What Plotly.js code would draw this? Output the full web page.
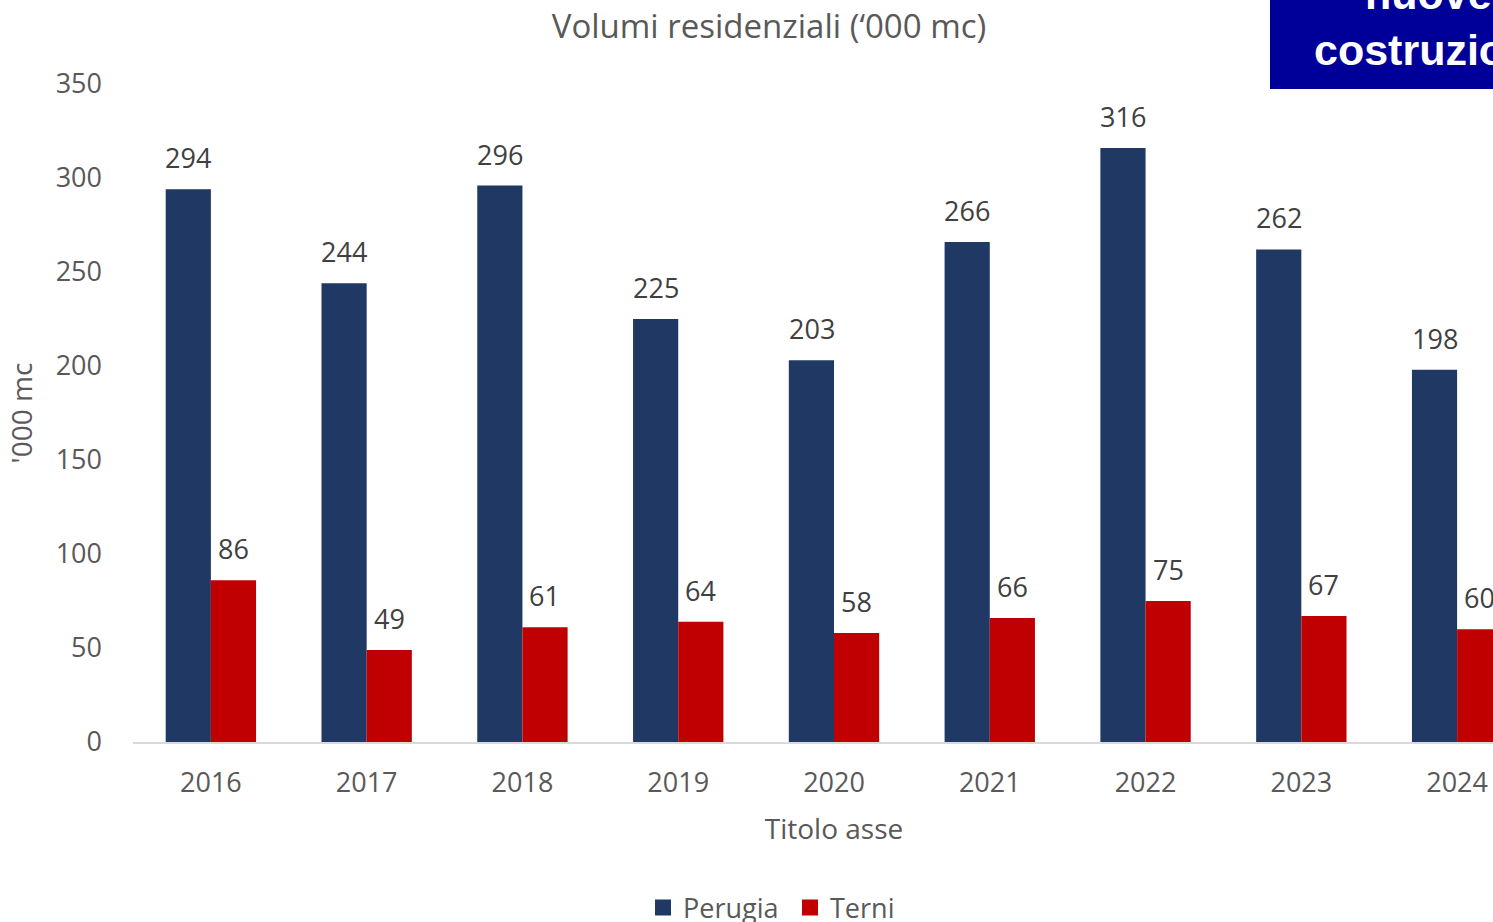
<!DOCTYPE html>
<html>
<head>
<meta charset="utf-8">
<script src="https://cdn.plot.ly/plotly-3.0.1.min.js"></script>
<style>
html,body{margin:0;padding:0;overflow:hidden;background:#fff;}
#chart{width:1540px;height:922px;}
</style>
</head>
<body>
<div id="chart"></div>
<script>
var years = ['2016','2017','2018','2019','2020','2021','2022','2023','2024'];
var perugia = [294,244,296,225,203,266,316,262,198];
var terni = [86,49,61,64,58,66,75,67,60];
var seriesNames = ['Perugia','Terni'];
var seriesColors = ['#1F3864','#C00000'];

var FONT = '"Open Sans", "DejaVu Sans", sans-serif';
var BOXFONT = '"Liberation Sans", Arial, sans-serif';

var traces = [
  {type:'bar', x:years, y:perugia, name:seriesNames[0], marker:{color:seriesColors[0]}, showlegend:false, hoverinfo:'x+y'},
  {type:'bar', x:years, y:terni, name:seriesNames[1], marker:{color:seriesColors[1]}, showlegend:false, hoverinfo:'x+y'},
  // legend-only entries with larger square swatches
  {type:'scatter', mode:'markers', x:[null], y:[null], name:seriesNames[0], marker:{symbol:'square', size:18, color:seriesColors[0]}, showlegend:true},
  {type:'scatter', mode:'markers', x:[null], y:[null], name:seriesNames[1], marker:{symbol:'square', size:18, color:seriesColors[1]}, showlegend:true}
];

var annotations = [];
years.forEach(function(yr,i){
  annotations.push({x:i, y:perugia[i], xref:'x', yref:'y', text:String(perugia[i]), showarrow:false,
    xshift:-22.5, yanchor:'bottom', yshift:11, font:{family:FONT, size:27, color:'#404040'}});
  annotations.push({x:i, y:terni[i], xref:'x', yref:'y', text:String(terni[i]), showarrow:false,
    xshift:22.5, yanchor:'bottom', yshift:11, font:{family:FONT, size:27, color:'#404040'}});
});
// Blue header box text
annotations.push({xref:'paper', yref:'paper', x:(1428-133)/1402, y:(742-50)/658, xanchor:'center', yanchor:'middle',
  text:'<b>costruzioni</b>', showarrow:false, font:{family:BOXFONT, size:43, color:'#ffffff'}});
annotations.push({xref:'paper', yref:'paper', x:(1428-133)/1402, y:(742+6)/658, xanchor:'center', yanchor:'middle',
  text:'<b>nuove</b>', showarrow:false, font:{family:BOXFONT, size:43, color:'#ffffff'}});

var layout = {
  width:1540, height:922,
  margin:{l:133, r:5, t:84, b:180},
  paper_bgcolor:'#ffffff', plot_bgcolor:'#ffffff',
  barmode:'group', bargap:0.42, bargroupgap:0,
  title:{text:'Volumi residenziali (‘000 mc)', x:769/1540, xref:'container', xanchor:'center', y:1-26/922, yref:'container', yanchor:'middle',
    font:{family:FONT, size:33, color:'#595959'}},
  xaxis:{type:'category', range:[-0.5, years.length-0.5], autorange:false, showgrid:false, showline:true, linecolor:'#d9d9d9', linewidth:1.5, ticks:'',
    tickfont:{family:FONT, size:27, color:'#595959'}, ticklabelstandoff:16,
    title:{text:'Titolo asse', font:{family:FONT, size:28, color:'#595959'}, standoff:20}},
  yaxis:{range:[0,350], autorange:false, dtick:50, showgrid:false, zeroline:false, showline:false, ticks:'',
    tickfont:{family:FONT, size:27, color:'#595959'}, ticklabelstandoff:30,
    title:{text:"'000 mc", font:{family:FONT, size:28, color:'#595959'}, standoff:14}},
  showlegend:true,
  legend:{orientation:'h', x:643/1540, xref:'container', xanchor:'left', y:(922-908)/922, yref:'container', yanchor:'middle',
    font:{family:FONT, size:27, color:'#595959'}, traceorder:'normal', itemwidth:30, entrywidth:102, entrywidthmode:'pixels'},
  shapes:[{type:'rect', xref:'paper', yref:'paper', x0:(1270-133)/1402, x1:1.2, y0:(742-89)/658, y1:1.2,
    fillcolor:'#000099', line:{width:0}, layer:'above'}],
  annotations:annotations
};

Plotly.newPlot('chart', traces, layout, {displayModeBar:false, staticPlot:true});
</script>
</body>
</html>
